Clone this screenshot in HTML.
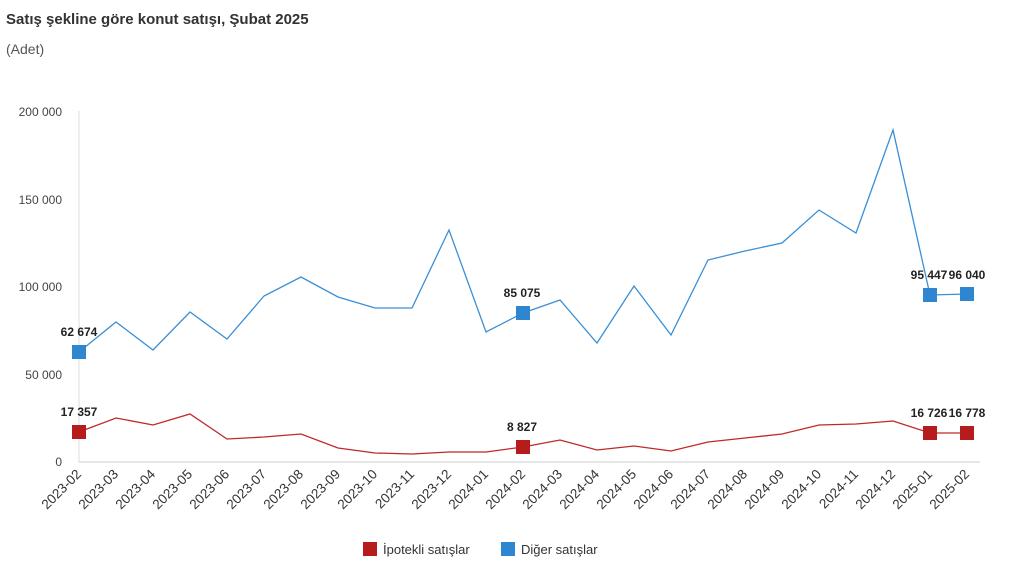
<!DOCTYPE html>
<html><head><meta charset="utf-8"><style>
body{margin:0;background:#fff;width:1024px;height:561px;overflow:hidden;font-family:"Liberation Sans",sans-serif}
</style></head><body>
<svg width="1024" height="561" xmlns="http://www.w3.org/2000/svg" font-family="Liberation Sans, sans-serif">
<text x="6" y="24" font-size="15" font-weight="bold" fill="#333">Satış şekline göre konut satışı, Şubat 2025</text>
<text x="6" y="54" font-size="14" fill="#555">(Adet)</text>
<g font-size="12" fill="#444" text-anchor="end">
<text x="62" y="116">200 000</text><text x="62" y="204">150 000</text><text x="62" y="291">100 000</text><text x="62" y="379">50 000</text><text x="62" y="466">0</text>
</g>
<line x1="79" y1="111" x2="79" y2="462" stroke="#ddd"/>
<line x1="79" y1="462" x2="980" y2="462" stroke="#ccc"/>
<g id="ticks" font-size="13.5" fill="#333"></g>
<polyline fill="none" stroke="#3a8fd6" stroke-width="1.3" id="b"/>
<polyline fill="none" stroke="#c0282a" stroke-width="1.3" id="r"/>
<g id="m"></g>
<g font-size="12" font-weight="bold" fill="#222" text-anchor="middle">
<text x="79" y="336">62 674</text><text x="522" y="297">85 075</text><text x="929" y="279">95 447</text><text x="967" y="279">96 040</text>
<text x="79" y="416">17 357</text><text x="522" y="431">8 827</text><text x="929" y="417">16 726</text><text x="967" y="417">16 778</text>
</g>
<rect x="363" y="542" width="14" height="14" fill="#b71c1c"/><text x="383" y="554" font-size="13" fill="#333">İpotekli satışlar</text>
<rect x="501" y="542" width="14" height="14" fill="#2e86d1"/><text x="521" y="554" font-size="13" fill="#333">Diğer satışlar</text>
</svg>
<script>
var B=[352,322,350,312,339,296,277,297,308,308,230,332,313,300,343,286,335,260,251,243,210,233,130,295,294];
var R=[432,418,425,414,439,437,434,448,453,454,452,452,447,440,450,446,451,442,438,434,425,424,421,433,433];
var L=["2023-02","2023-03","2023-04","2023-05","2023-06","2023-07","2023-08","2023-09","2023-10","2023-11","2023-12","2024-01","2024-02","2024-03","2024-04","2024-05","2024-06","2024-07","2024-08","2024-09","2024-10","2024-11","2024-12","2025-01","2025-02"];
var X=i=>79+i*37;
document.getElementById('b').setAttribute('points',B.map((y,i)=>X(i)+','+y).join(' '));
document.getElementById('r').setAttribute('points',R.map((y,i)=>X(i)+','+y).join(' '));
var t='',m='';
L.forEach((l,i)=>{t+=`<text transform="translate(${X(i)+3},475) rotate(-45)" text-anchor="end">${l}</text>`;});
[0,12,23,24].forEach(i=>{m+=`<rect x="${X(i)-7}" y="${B[i]-7}" width="14" height="14" fill="#2e86d1"/><rect x="${X(i)-7}" y="${R[i]-7}" width="14" height="14" fill="#b71c1c"/>`;});
document.getElementById('ticks').innerHTML=t;document.getElementById('m').innerHTML=m;
</script>
</body></html>
